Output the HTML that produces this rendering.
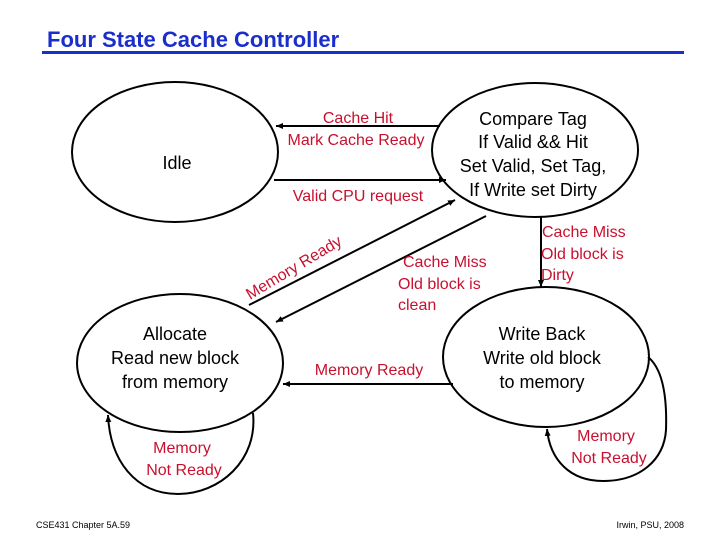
<!DOCTYPE html>
<html><head><meta charset="utf-8"><style>
html,body{margin:0;padding:0;background:#fff;}
svg{display:block;}
</style></head><body>
<svg width="720" height="540" viewBox="0 0 720 540" xmlns="http://www.w3.org/2000/svg" font-family="Liberation Sans, Arial, sans-serif">
<defs>
<marker id="a" markerWidth="8" markerHeight="8" refX="7" refY="4" orient="auto" markerUnits="userSpaceOnUse">
<path d="M0,1 L7,4 L0,7 z" fill="#000"/>
</marker>
</defs>
<text x="47" y="47" font-size="22" font-weight="bold" fill="#1a2ecc">Four State Cache Controller</text>
<rect x="42" y="51" width="642" height="3" fill="#1a2ecc"/>
<g fill="none" stroke="#000" stroke-width="2">
<ellipse cx="175" cy="152" rx="103" ry="70"/>
<ellipse cx="535" cy="150" rx="103" ry="67"/>
<ellipse cx="180" cy="363" rx="103" ry="69"/>
<ellipse cx="546" cy="357" rx="103" ry="70"/>
<line x1="440" y1="126" x2="276" y2="126" marker-end="url(#a)"/>
<line x1="274" y1="180" x2="446" y2="180" marker-end="url(#a)"/>
<line x1="249" y1="305" x2="455" y2="200" marker-end="url(#a)"/>
<line x1="486" y1="216" x2="276" y2="322" marker-end="url(#a)"/>
<line x1="541" y1="217" x2="541" y2="287" marker-end="url(#a)"/>
<line x1="453" y1="384" x2="283" y2="384" marker-end="url(#a)"/>
<path d="M253,413 C258,460 220,494 178,494 C135,494 110,460 108,415" marker-end="url(#a)"/>
<path d="M648,357 C664,370 667,400 666,430 C664,460 640,481 603,481 C570,481 550,460 547,429" marker-end="url(#a)"/>
</g>
<g font-size="18" fill="#000" text-anchor="middle">
<text x="177" y="169">Idle</text>
<text x="533" y="125">Compare Tag</text>
<text x="533" y="148">If Valid &amp;&amp; Hit</text>
<text x="533" y="172">Set Valid, Set Tag,</text>
<text x="533" y="196">If Write set Dirty</text>
<text x="175" y="340">Allocate</text>
<text x="175" y="364">Read new block</text>
<text x="175" y="388">from memory</text>
<text x="542" y="340">Write Back</text>
<text x="542" y="364">Write old block</text>
<text x="542" y="388">to memory</text>
</g>
<g font-size="16" fill="#c8102e">
<g text-anchor="middle">
<text x="358" y="123">Cache Hit</text>
<text x="356" y="145">Mark Cache Ready</text>
<text x="358" y="201">Valid CPU request</text>
<text x="369" y="375">Memory Ready</text>
<text x="182" y="453">Memory</text>
<text x="184" y="475">Not Ready</text>
<text x="606" y="441">Memory</text>
<text x="609" y="463">Not Ready</text>
</g>
<text x="403" y="267">Cache Miss</text>
<text x="398" y="289">Old block is</text>
<text x="398" y="310">clean</text>
<text x="542" y="237">Cache Miss</text>
<text x="541" y="259">Old block is</text>
<text x="541" y="280">Dirty</text>
<text transform="translate(250,300) rotate(-31)">Memory Ready</text>
</g>
<text x="36" y="528" font-size="9" fill="#000">CSE431  Chapter 5A.59</text>
<text x="684" y="528" font-size="9" fill="#000" text-anchor="end">Irwin, PSU, 2008</text>
</svg>
</body></html>
